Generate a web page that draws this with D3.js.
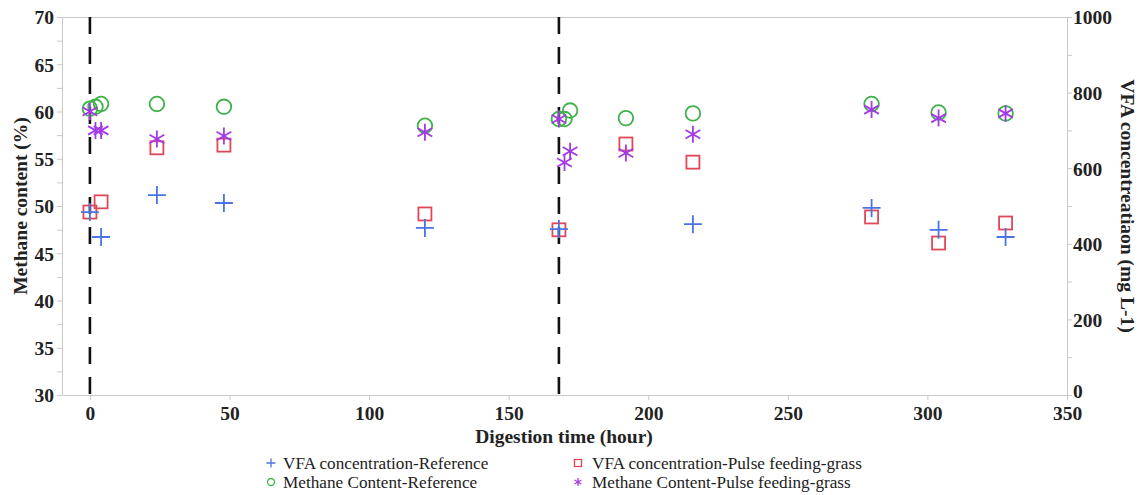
<!DOCTYPE html>
<html><head><meta charset="utf-8">
<script src="https://cdn.jsdelivr.net/npm/d3@7"></script>
<style>body{margin:0;background:#fff}svg{display:block}</style>
</head><body>
<svg id="c" width="1141" height="495"></svg>
<script>
// Data
const vfaRefX = [0, 4, 24, 48, 120, 168, 216, 280, 304, 328];
const vfaRefY = [484, 418, 529, 508, 442, 439, 452, 495, 437, 418];
const vfaPulseX = [0, 4, 24, 48, 120, 168, 192, 216, 280, 304, 328];
const vfaPulseY = [484, 511, 654, 661, 479, 437, 664, 616, 471, 402, 455];
const chRefX = [0, 2, 4, 24, 48, 120, 168, 170, 172, 192, 216, 280, 304, 328];
const chRefY = [60.3, 60.5, 60.8, 60.8, 60.5, 58.5, 59.2, 59.2, 60.1, 59.3, 59.8, 60.8, 59.9, 59.8];
const chPulseX = [0, 2, 4, 24, 48, 120, 168, 170, 172, 192, 216, 280, 304, 328];
const chPulseY = [60.0, 58.0, 58.0, 57.1, 57.4, 57.8, 59.2, 54.6, 55.8, 55.6, 57.6, 60.2, 59.3, 59.8];
const pulseTimes = [0, 168];
const xTicks = [0, 50, 100, 150, 200, 250, 300, 350];
const yLeftTicks = [30, 35, 40, 45, 50, 55, 60, 65, 70];
const yRightTicks = [0, 200, 400, 600, 800, 1000];
const legendLabels = ["VFA concentration-Reference", "VFA concentration-Pulse feeding-grass", "Methane Content-Reference", "Methane Content-Pulse feeding-grass"];

const C = {blue:"#4a74e4", red:"#e0485a", green:"#3fb24a", purple:"#a43ae6", axis:"#c8c8c8"};
const svg = d3.select("#c");
const L = 62, R = 1067, T = 17, B = 395;
const x = d3.scaleLinear().domain([-10, 350]).range([L, R]);
const yL = d3.scaleLinear().domain([30, 70]).range([B, T]);
const yR = d3.scaleLinear().domain([0, 1000]).range([B, T]);
const font = "'Liberation Serif','Times New Roman',serif";
const FS = "19.5px";

// frame
svg.append("line").attr("x1",L).attr("x2",R).attr("y1",T+0.5).attr("y2",T+0.5).attr("stroke",C.axis);

function styleAxis(g){
  g.selectAll(".domain").attr("stroke",C.axis);
  g.selectAll(".tick line").attr("stroke",C.axis);
  g.selectAll("text").attr("font-family",font).attr("font-weight","bold").attr("font-size",FS).attr("fill","#222");
}
const gx = svg.append("g").attr("transform",`translate(0,${B})`)
  .call(d3.axisBottom(x).tickValues(xTicks).tickSize(5).tickSizeOuter(0).tickPadding(3));
styleAxis(gx);
const gl = svg.append("g").attr("transform",`translate(${L},0)`)
  .call(d3.axisLeft(yL).tickValues(d3.range(30,70.1,2.5)).tickSize(5).tickSizeOuter(0).tickPadding(3)
    .tickFormat(d => yLeftTicks.includes(d) ? d : ""));
styleAxis(gl);
const gr = svg.append("g").attr("transform",`translate(${R},0)`)
  .call(d3.axisRight(yR).tickValues(d3.range(0,1001,100)).tickSize(5).tickSizeOuter(0).tickPadding(1)
    .tickFormat(d => yRightTicks.includes(d) ? d : ""));
styleAxis(gr);
gx.selectAll("text").attr("dy","0.85em");
gl.selectAll("text").attr("dy","0.35em");
gr.selectAll("text").attr("dy", d => d === 0 ? "0.15em" : "0.35em");

// dashed lines
svg.selectAll(".dash").data(pulseTimes).enter().append("line")
  .attr("x1",d=>x(d)).attr("x2",d=>x(d)).attr("y1",T).attr("y2",B+6)
  .attr("stroke","#111").attr("stroke-width",2.6).attr("stroke-dasharray","17,13");

// axis titles
svg.append("text").attr("x",564).attr("y",443).attr("text-anchor","middle")
  .attr("font-family",font).attr("font-weight","bold").attr("font-size",FS).attr("fill","#222")
  .text("Digestion time (hour)");
svg.append("text").attr("transform","translate(27,206) rotate(-90)").attr("text-anchor","middle")
  .attr("font-family",font).attr("font-weight","bold").attr("font-size",FS).attr("fill","#222")
  .text("Methane content (%)");
svg.append("text").attr("transform","translate(1121,206) rotate(90)").attr("text-anchor","middle")
  .attr("font-family",font).attr("font-weight","bold").attr("font-size",FS).attr("fill","#222")
  .text("VFA concentreatiaon (mg L-1)");

// markers
const g = svg.append("g").attr("fill","none").attr("stroke-width",1.8);
function plus(s){return `M${-s},0H${s}M0,${-s}V${s}`;}
function star(s){let p="";for(let i=0;i<3;i++){const a=Math.PI/2+i*Math.PI/3;const dx=s*Math.cos(a),dy=s*Math.sin(a);p+=`M${-dx},${-dy}L${dx},${dy}`;}return p;}

g.selectAll(".cr").data(chRefX.map((d,i)=>[d,chRefY[i]])).enter().append("circle")
  .attr("cx",d=>x(d[0])).attr("cy",d=>yL(d[1])).attr("r",7.3).attr("stroke",C.green);
g.selectAll(".vp").data(vfaPulseX.map((d,i)=>[d,vfaPulseY[i]])).enter().append("rect")
  .attr("x",d=>x(d[0])-6.5).attr("y",d=>yR(d[1])-6.5).attr("width",13).attr("height",13).attr("stroke",C.red);
g.selectAll(".vr").data(vfaRefX.map((d,i)=>[d,vfaRefY[i]])).enter().append("path")
  .attr("transform",d=>`translate(${x(d[0])},${yR(d[1])})`).attr("d",plus(9)).attr("stroke",C.blue);
g.selectAll(".cp").data(chPulseX.map((d,i)=>[d,chPulseY[i]])).enter().append("path")
  .attr("transform",d=>`translate(${x(d[0])},${yL(d[1])})`).attr("d",star(8.5)).attr("stroke",C.purple);

// legend
const lg = svg.append("g");
const pos = [[271,463],[578,463],[271,482],[578,482]];
const cols = [C.blue,C.red,C.green,C.purple];
legendLabels.forEach((t,i)=>{
  const [px,py]=pos[i];
  const m = lg.append("g").attr("transform",`translate(${px},${py})`).attr("fill","none").attr("stroke",cols[i]).attr("stroke-width",1.3);
  if(i===0) m.append("path").attr("d",plus(4.5));
  if(i===1) m.append("rect").attr("x",-3.5).attr("y",-3.5).attr("width",7).attr("height",7);
  if(i===2) m.append("circle").attr("r",3.5);
  if(i===3) m.append("path").attr("d",star(4));
  lg.append("text").attr("x",px+(i%2?14:12)).attr("y",py).attr("dy","0.35em")
    .attr("font-family",font).attr("font-size","17.2px").attr("fill","#222").text(t);
});
</script>
</body></html>
